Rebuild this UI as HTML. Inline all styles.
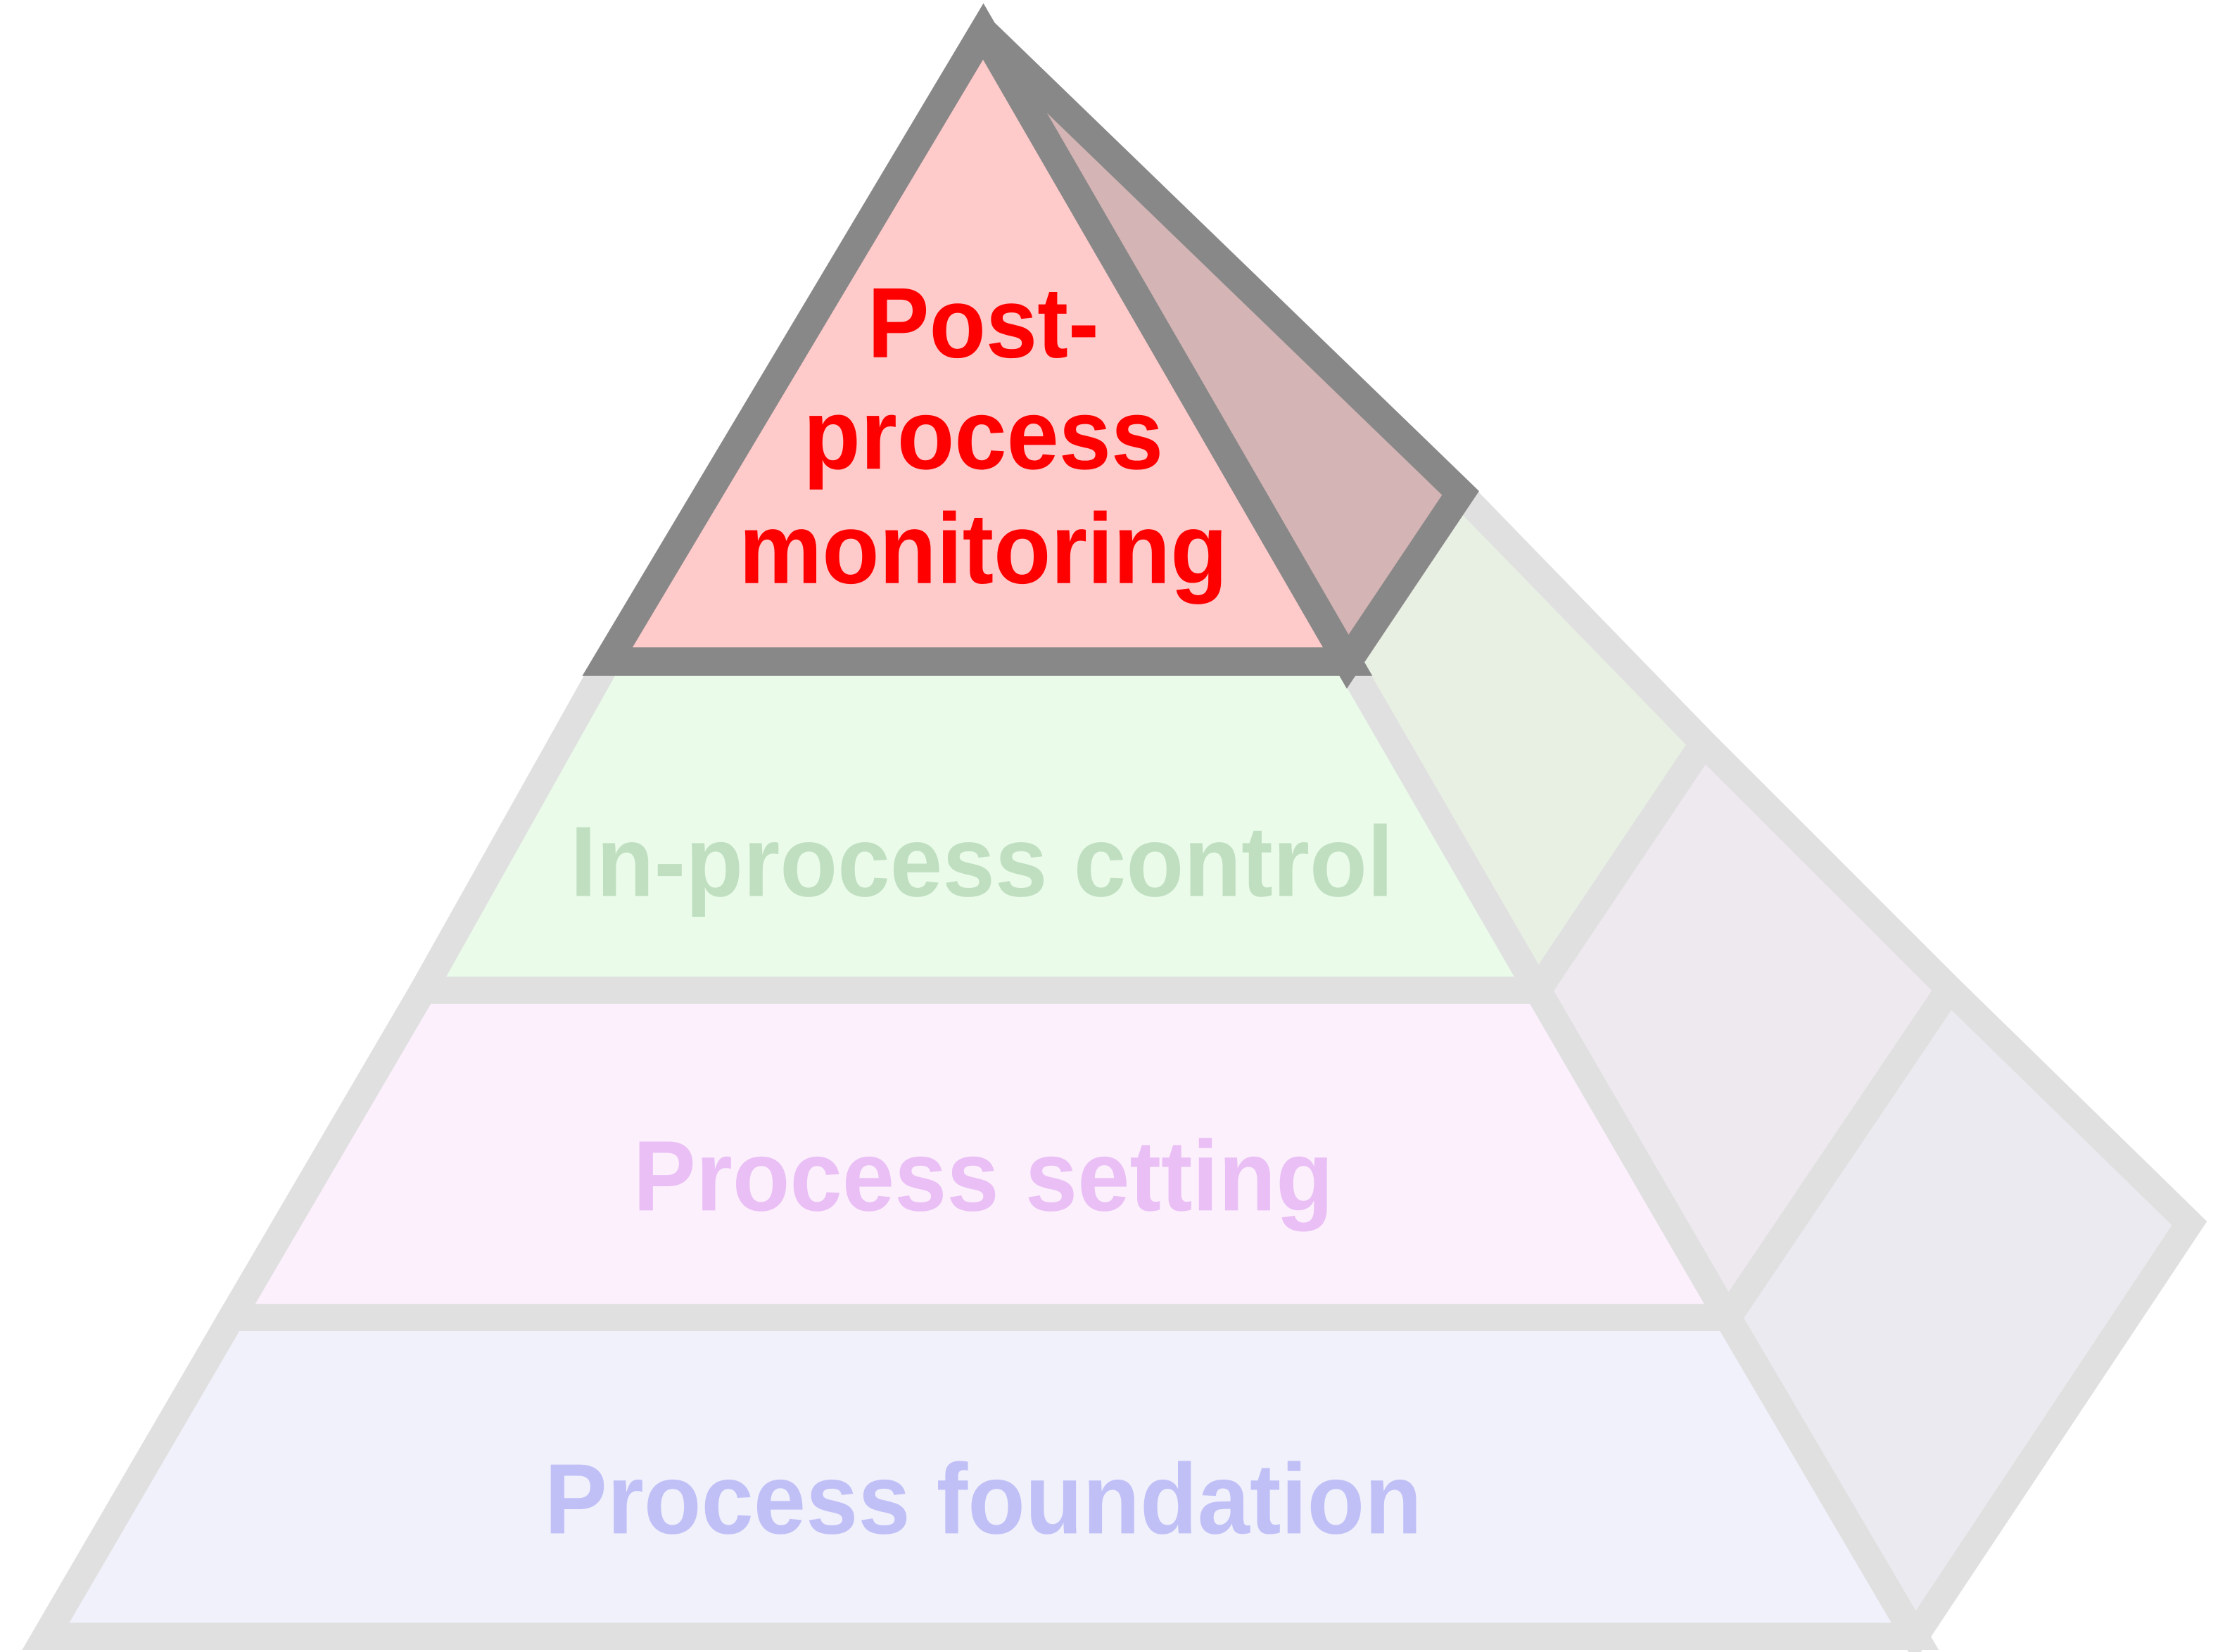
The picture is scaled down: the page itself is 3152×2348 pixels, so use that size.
<!DOCTYPE html>
<html><head><meta charset="utf-8"><style>
html,body{margin:0;padding:0;background:#fff;}
svg{display:block;}
text{font-family:"Liberation Sans",Arial,sans-serif;font-weight:bold;font-size:70px;text-anchor:middle;}
</style></head><body>
<svg width="3152" height="2348" viewBox="0 0 1552 1156" preserveAspectRatio="none" xmlns="http://www.w3.org/2000/svg">
<polygon points="943,463 1022,345 1192,520 1076,693" fill="#e8efe3" stroke="#e0e0e0" stroke-width="19" stroke-linejoin="miter"/>
<polygon points="1076,693 1192,520 1364,692 1209,922" fill="#eee9ef" stroke="#e0e0e0" stroke-width="19"/>
<polygon points="1209,922 1364,692 1532,856 1340,1145" fill="#ebeaf0" stroke="#e0e0e0" stroke-width="19"/>
<polygon points="425,463 943,463 1076,693 296,693" fill="#eafbea" stroke="#e0e0e0" stroke-width="19"/>
<polygon points="296,693 1076,693 1209,922 162,922" fill="#fbf0fc" stroke="#e0e0e0" stroke-width="19"/>
<polygon points="162,922 1209,922 1340,1145 32,1145" fill="#f1f1fc" stroke="#e0e0e0" stroke-width="19"/>
<polyline points="1022,345 1192,520 1364,692 1532,856" fill="none" stroke="#e0e0e0" stroke-width="19"/>
<polygon points="688,22 1022,345 943,463" fill="#d4b4b4" stroke="#888" stroke-width="20" stroke-linejoin="miter"/>
<polygon points="688,22 943,463 425,463" fill="#ffcaca" stroke="#888" stroke-width="20" stroke-linejoin="miter"/>
<text x="688" y="250" fill="#ff0000" textLength="162" lengthAdjust="spacingAndGlyphs">Post-</text>
<text x="688" y="328" fill="#ff0000" textLength="252" lengthAdjust="spacingAndGlyphs">process</text>
<text x="688" y="408" fill="#ff0000" textLength="342" lengthAdjust="spacingAndGlyphs">monitoring</text>
<text x="687" y="627" fill="#c0dfc0" textLength="576" lengthAdjust="spacingAndGlyphs">In-process control</text>
<text x="688" y="847" fill="#eabff5" textLength="490" lengthAdjust="spacingAndGlyphs">Process setting</text>
<text x="688" y="1073" fill="#c0c0f7" textLength="614" lengthAdjust="spacingAndGlyphs">Process foundation</text>
</svg>
</body></html>
